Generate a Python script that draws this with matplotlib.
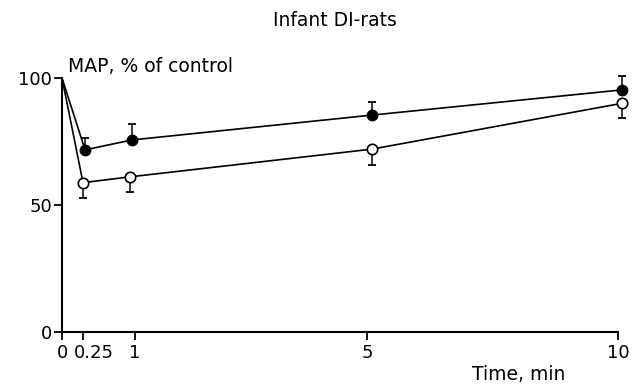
import numpy as np
import matplotlib
matplotlib.use('Agg')
import matplotlib.pyplot as plt
from matplotlib.scale import FuncScale
import matplotlib.transforms as mtransforms

# MAP (% of control) after injection, infant DI-rats
# filled = one group, open = other group; means with one-sided error bars
time_filled = [0, 0.28, 0.96, 5.1, 10.07]
map_filled = [100, 71.7, 75.6, 85.4, 95.3]
err_filled = [0, 4.8, 6.3, 5.2, 5.5]

time_open = [0, 0.25, 0.94, 5.1, 10.07]
map_open = [100, 58.8, 61.1, 72.0, 90.0]
err_open = [0, 6.0, 5.9, 6.3, 5.7]

xticks = [0, 0.25, 1, 5, 10]
xticklabels = ['0', '0.25', '1', '5', '10']
yticks = [0, 50, 100]

# the original time axis is stretched near zero, so map it piecewise
xs = [0, 0.25, 1, 5, 10, 20]
ps = [0, 21, 72.5, 305, 556, 1058]
def fwd(x):
    return np.interp(x, xs, ps)
def inv(p):
    return np.interp(p, ps, xs)

plt.rcParams['font.family'] = 'DejaVu Sans'

fig = plt.figure(figsize=(6.4, 3.85), dpi=100)
ax = fig.add_axes([62/640, 1-332/385, (618-62)/640, (332-78)/385])
ax.set_xscale(FuncScale(ax, (fwd, inv)))

lw = 1.2
# filled circles, error bars upward only
ax.errorbar(time_filled[1:], map_filled[1:], yerr=[np.zeros(4), err_filled[1:]],
            fmt='none', ecolor='black', elinewidth=1.1, capsize=3, capthick=1.3, clip_on=False)
ax.plot(time_filled, map_filled, '-', color='black', lw=lw, clip_on=False)
ax.plot(time_filled[1:], map_filled[1:], 'o', color='black', ms=7.5, clip_on=False, zorder=4)

# open circles, error bars downward only
ax.errorbar(time_open[1:], map_open[1:], yerr=[err_open[1:], np.zeros(4)],
            fmt='none', ecolor='black', elinewidth=1.1, capsize=3, capthick=1.3, clip_on=False)
ax.plot(time_open, map_open, '-', color='black', lw=lw, clip_on=False)
ax.plot(time_open[1:], map_open[1:], 'o', mfc='white', mec='black', mew=lw, ms=7.5,
        clip_on=False, zorder=4)

ax.set_xlim(0, 10)
ax.set_ylim(0, 100)
for s in ['top', 'right']:
    ax.spines[s].set_visible(False)
for s in ['left', 'bottom']:
    ax.spines[s].set_linewidth(1.5)

ax.set_xticks(xticks)
ax.set_xticklabels(xticklabels)
ax.set_yticks(yticks)
ax.tick_params(axis='both', direction='out', length=6, width=1.3, labelsize=13)
ax.tick_params(axis='x', pad=3)
ax.tick_params(axis='y', pad=1)

# push 0.25 label right so it clears the 0
lab = ax.get_xticklabels()[1]
lab.set_transform(lab.get_transform() + mtransforms.ScaledTranslation(11/100, 0, fig.dpi_scale_trans))

fig.text(335/640, 1-21/385, 'Infant DI-rats', ha='center', va='center', fontsize=13.5)
fig.text(68/640, 1-72/385, 'MAP, % of control', ha='left', va='baseline', fontsize=13.5)
fig.text(565/640, 1-374/385, 'Time, min', ha='right', va='center', fontsize=13.5)

fig.savefig('out.png', dpi=100)
